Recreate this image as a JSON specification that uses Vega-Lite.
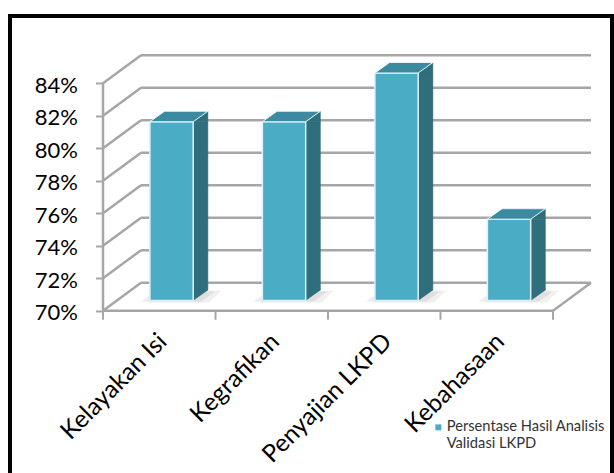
{
  "$schema": "https://vega.github.io/schema/vega-lite/v6.json",
  "width": 602,
  "height": 460,
  "autosize": {"type": "none"},
  "padding": {"left": 10, "top": 16, "right": 2, "bottom": 0},
  "background": "white",
  "config": {
    "view": {"stroke": "#000000", "strokeWidth": 4},
    "font": "Lato"
  },
  "datasets": {
    "bars": [
      {"kategori": "Kelayakan Isi", "nilai": 81},
      {"kategori": "Kegrafikan", "nilai": 81},
      {"kategori": "Penyajian LKPD", "nilai": 84},
      {"kategori": "Kebahasaan", "nilai": 75}
    ],
    "grid": [
      {"v": 70}, {"v": 72}, {"v": 74}, {"v": 76},
      {"v": 78}, {"v": 80}, {"v": 82}, {"v": 84}
    ]
  },
  "data": {"name": "bars"},
  "layer": [
    {
      "data": {"name": "grid"},
      "mark": {"type": "rule", "color": "#a6a6a6", "strokeWidth": 2.5, "xOffset": -18.25, "x2Offset": 94.25, "yOffset": -28},
      "encoding": {
        "x": {
          "datum": "Kelayakan Isi", "type": "nominal",
          "scale": {"domain": ["Kelayakan Isi", "Kegrafikan", "Penyajian LKPD", "Kebahasaan"], "paddingInner": 0, "paddingOuter": 0.6756, "align": 0.6118},
          "axis": {"title": null, "domain": false, "ticks": false, "labelAngle": -45, "labelAlign": "right", "labelBaseline": "middle", "labelPadding": 27, "labelOffset": 4, "labelFont": "Lato", "labelFontSize": 24.5, "labelColor": "#000000", "labelLimit": 400, "offset": -165.3, "orient": "bottom"}
        },
        "x2": {"datum": "Kebahasaan"},
        "y": {
          "field": "v", "type": "quantitative",
          "scale": {"domain": [59.823, 88.143], "nice": false, "zero": false},
          "axis": {"title": null, "domain": false, "grid": false, "values": [70, 72, 74, 76, 78, 80, 82, 84], "labelExpr": "datum.value + '%'", "tickSize": 7, "tickColor": "#a6a6a6", "tickWidth": 2, "labelPadding": 18, "labelOffset": 2, "labelFont": "Lato", "labelFontSize": 22, "labelColor": "#000000", "offset": -92.5, "orient": "left"}
        }
      }
    },
    {
      "data": {"name": "grid"},
      "mark": {"type": "rule", "color": "#a6a6a6", "strokeWidth": 2.5, "xOffset": -56.25, "x2Offset": -18.25, "y2Offset": -28},
      "encoding": {
        "x": {"datum": "Kelayakan Isi", "type": "nominal"},
        "x2": {"datum": "Kelayakan Isi"},
        "y": {"field": "v", "type": "quantitative"},
        "y2": {"field": "v"}
      }
    },
    {
      "data": {"name": "grid"},
      "transform": [{"filter": "datum.v == 70"}],
      "mark": {"type": "rule", "color": "#a6a6a6", "strokeWidth": 2.5, "xOffset": -56.25, "x2Offset": 56.25},
      "encoding": {
        "x": {"datum": "Kelayakan Isi", "type": "nominal"},
        "x2": {"datum": "Kebahasaan"},
        "y": {"field": "v", "type": "quantitative"}
      }
    },
    {
      "data": {"name": "grid"},
      "transform": [{"filter": "datum.v == 70"}],
      "mark": {"type": "rule", "color": "#a6a6a6", "strokeWidth": 2.5, "xOffset": 56.25, "x2Offset": 94.25, "y2Offset": -28},
      "encoding": {
        "x": {"datum": "Kebahasaan", "type": "nominal"},
        "x2": {"datum": "Kebahasaan"},
        "y": {"field": "v", "type": "quantitative"},
        "y2": {"field": "v"}
      }
    },
    {
      "data": {"name": "grid"},
      "transform": [{"filter": "datum.v == 70"}],
      "mark": {"type": "rule", "color": "#a6a6a6", "strokeWidth": 2.5, "xOffset": -56.25},
      "encoding": {
        "x": {"datum": "Kelayakan Isi", "type": "nominal"},
        "y": {"field": "v", "type": "quantitative"},
        "y2": {"datum": 84}
      }
    },
    {
      "data": {"name": "grid"},
      "transform": [{"filter": "datum.v == 70"}],
      "mark": {"type": "rule", "color": "#a6a6a6", "strokeWidth": 2, "xOffset": 56.25, "y2Offset": 9},
      "encoding": {
        "x": {"datum": "Kebahasaan", "type": "nominal"},
        "y": {"field": "v", "type": "quantitative"},
        "y2": {"field": "v"}
      }
    },
    {
      "mark": {"type": "rule", "color": "#a6a6a6", "strokeWidth": 2, "xOffset": -56.25, "y2Offset": 9},
      "encoding": {
        "x": {"field": "kategori", "type": "nominal"},
        "y": {"datum": 70, "type": "quantitative"},
        "y2": {"datum": 70}
      }
    },
    {
      "mark": {"type": "point", "shape": "M-52,1L8,1L22,-9L-38,-9Z", "size": 4, "filled": true, "opacity": 0.15, "color": "#808080", "strokeWidth": 0, "xOffset": 33.95, "yOffset": -10.3},
      "encoding": {
        "x": {"field": "kategori", "type": "nominal"},
        "y": {"datum": 70, "type": "quantitative"}
      }
    },
    {
      "mark": {"type": "point", "shape": "M-46,2L16,2L28,-10L-34,-10Z", "size": 4, "filled": true, "opacity": 0.12, "color": "#808080", "strokeWidth": 0, "xOffset": 33.95, "yOffset": -10.3},
      "encoding": {
        "x": {"field": "kategori", "type": "nominal"},
        "y": {"datum": 70, "type": "quantitative"}
      }
    },
    {
      "mark": {"type": "bar", "color": "#2f6e7d", "width": 14.7, "xOffset": 41.3, "yOffset": -10.3, "y2Offset": -20.8, "stroke": "#2f6e7d", "strokeWidth": 0.5},
      "encoding": {
        "x": {"field": "kategori", "type": "nominal"},
        "y": {"field": "nilai", "type": "quantitative"},
        "y2": {"datum": 70}
      }
    },
    {
      "mark": {"type": "point", "shape": "M0,0L14.7,-10.5L14.7,0Z", "size": 4, "filled": true, "opacity": 1, "color": "#2f6e7d", "stroke": "#2f6e7d", "strokeWidth": 0.5, "xOffset": 33.95, "yOffset": -10.3},
      "encoding": {
        "x": {"field": "kategori", "type": "nominal"},
        "y": {"field": "nilai", "type": "quantitative"}
      }
    },
    {
      "mark": {"type": "point", "shape": "M0,0L0,10.5L14.7,0Z", "size": 4, "filled": true, "opacity": 1, "color": "#2f6e7d", "stroke": "#2f6e7d", "strokeWidth": 0.5, "xOffset": 33.95, "yOffset": -20.8},
      "encoding": {
        "x": {"field": "kategori", "type": "nominal"},
        "y": {"datum": 70, "type": "quantitative"}
      }
    },
    {
      "mark": {"type": "bar", "width": 43.3, "xOffset": 12.3, "yOffset": -10.3, "y2Offset": -10.3, "stroke": "#dff0f6", "strokeWidth": 1.5},
      "encoding": {
        "x": {"field": "kategori", "type": "nominal"},
        "y": {"field": "nilai", "type": "quantitative"},
        "y2": {"datum": 70},
        "color": {
          "datum": "Persentase Hasil Analisis Validasi LKPD", "type": "nominal",
          "scale": {"range": ["#4bacc6"]},
          "legend": {"orient": "none", "legendX": 421, "legendY": 404, "title": null, "symbolType": "square", "symbolSize": 36, "symbolStrokeWidth": 0, "labelOffset": 1, "labelExpr": "['Persentase Hasil Analisis', 'Validasi LKPD']", "labelFont": "Lato", "labelFontSize": 14.7, "labelColor": "#333333", "labelLimit": 400, "padding": 0,
            "encode": {"labels": {"update": {"lineHeight": {"value": 20}, "dy": {"value": 10}}}}}
        }
      }
    },
    {
      "mark": {"type": "point", "shape": "M-43.3,0L0,0L14.7,-10.5L-28.6,-10.5Z", "size": 4, "filled": true, "opacity": 1, "color": "#3b8aa0", "stroke": "#e6f3f7", "strokeWidth": 1, "xOffset": 33.95, "yOffset": -10.3},
      "encoding": {
        "x": {"field": "kategori", "type": "nominal"},
        "y": {"field": "nilai", "type": "quantitative"}
      }
    }
  ]
}
